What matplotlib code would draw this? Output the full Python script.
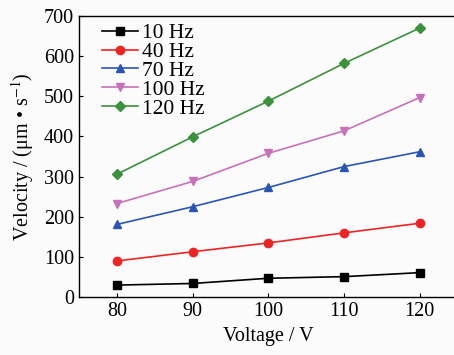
import numpy as np
import matplotlib.pyplot as plt

plt.rcParams['font.family'] = ['Liberation Serif', 'DejaVu Serif']
plt.rcParams['mathtext.fontset'] = 'stix'

voltage = [80, 90, 100, 110, 120]
v_10hz = [30, 34, 47, 51, 61]
v_40hz = [90, 113, 135, 160, 184]
v_70hz = [181, 225, 273, 325, 362]
v_100hz = [233, 288, 358, 414, 497]
v_120hz = [306, 399, 488, 582, 670]

series = [
    ('10 Hz', v_10hz, 'black', 's'),
    ('40 Hz', v_40hz, '#ee2424', 'o'),
    ('70 Hz', v_70hz, '#2b55b5', '^'),
    ('100 Hz', v_100hz, '#c871bb', 'v'),
    ('120 Hz', v_120hz, '#3b913c', 'D'),
]

fig = plt.figure(figsize=(4.54, 3.55), dpi=100)
fig.patch.set_facecolor('#fbfbfb')
ax = fig.add_axes([0.174, 0.163, 0.834, 0.792])
ax.set_facecolor('#fbfbfb')

for name, vals, col, mk in series:
    ms = 5.0 if mk == 'D' else 6.0
    ax.plot(voltage, vals, color=col, marker=mk, markersize=ms, linewidth=1.2, label=name)

ax.set_xlim(75, 125)
ax.set_ylim(0, 700)
ax.set_xticks(voltage)
ax.set_yticks(range(0, 701, 100))
ax.tick_params(direction='in', length=3, labelsize=14.5, width=0.8)
ax.spines['right'].set_visible(False)
for s in ['left', 'bottom', 'top']:
    ax.spines[s].set_linewidth(1.0)

ax.set_xlabel('Voltage / V', fontsize=14.5, labelpad=4)
ax.set_ylabel('Velocity / (μm • s$^{-1}$)', fontsize=14.5, labelpad=6)

ax.legend(loc='upper left', frameon=False, prop={'size': 15.5}, handlelength=1.7,
          handletextpad=0.15, labelspacing=-0.06, borderaxespad=0.1,
          bbox_to_anchor=(0.032, 1.012))

fig.savefig('out.png', dpi=100, facecolor=fig.get_facecolor())
